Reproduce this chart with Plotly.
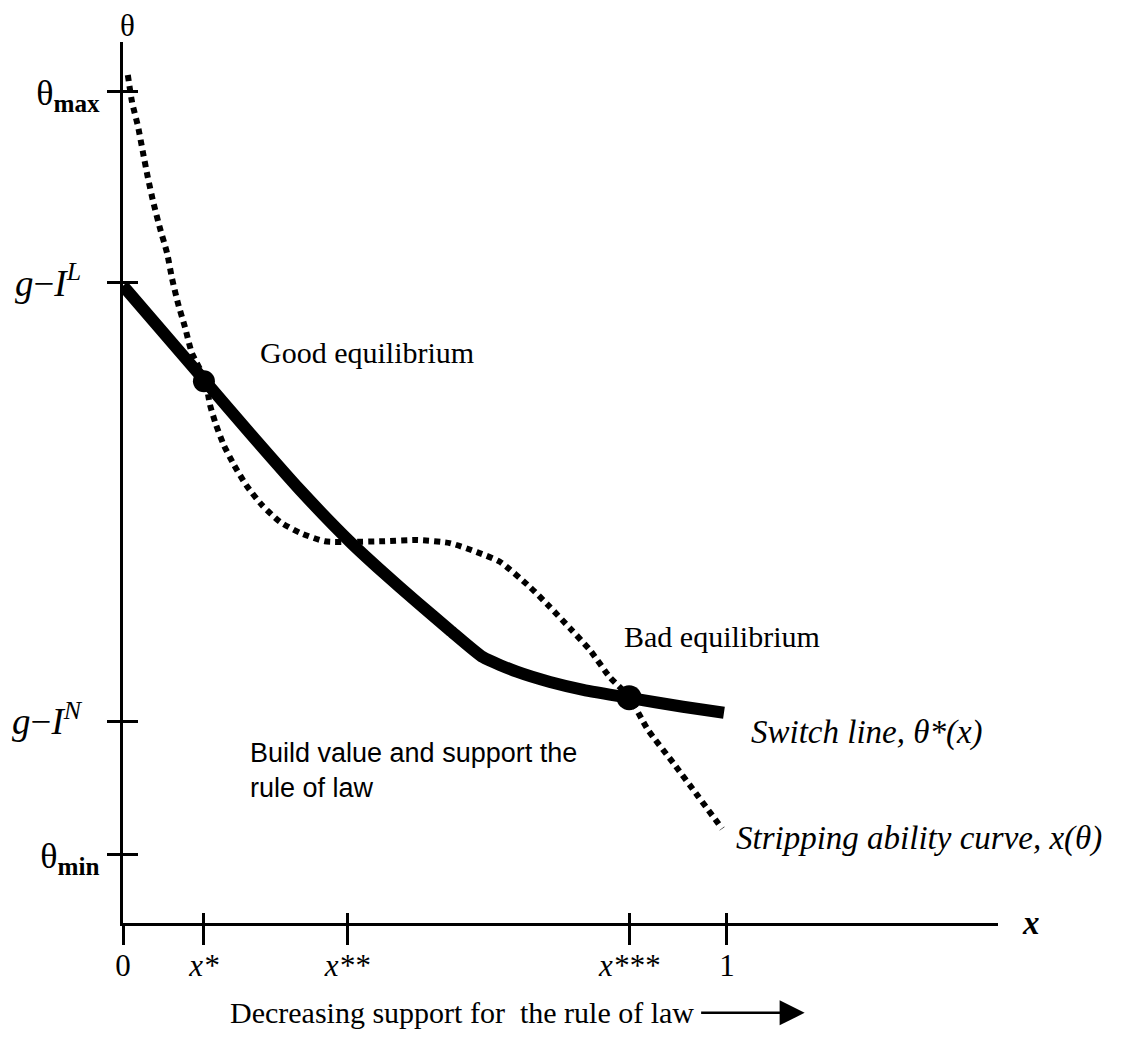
import plotly.graph_objects as go

# ---- data (schematic units: x=1 is the "1" tick; same scale on both axes) ----
x_tick_vals = [0.0, 0.134, 0.371, 0.838, 1.0]
x_tick_text = ["0", "<i>x*</i>", "<i>x**</i>", "<i>x***</i>", "1"]

y_tick_vals = [0.113, 0.334, 1.060, 1.376]
y_tick_text = [
    "<span style='font-size:36px'>θ<sub><b>min</b></sub></span>",
    "<i>g</i>−<i>I</i><sup><i>N</i></sup>\u00a0\u00a0",
    "<i>g</i>−<i>I</i><sup><i>L</i></sup>\u00a0\u00a0",
    "<span style='font-size:36px'>θ<sub><b>max</b></sub></span>",
]

# Switch line θ*(x)
switch_x = [0.0, 0.136, 0.210, 0.293, 0.376, 0.430, 0.487, 0.541, 0.596, 0.652, 0.707, 0.762, 0.836, 0.927, 0.995]
switch_y = [1.055, 0.897, 0.811, 0.717, 0.631, 0.581, 0.531, 0.485, 0.440, 0.416, 0.399, 0.386, 0.373, 0.358, 0.348]

# Stripping ability curve x(θ)
strip_x = [0.008, 0.015, 0.025, 0.033, 0.041, 0.050, 0.061, 0.073, 0.081, 0.091, 0.103, 0.114, 0.136,
           0.144, 0.154, 0.167, 0.184, 0.204, 0.230, 0.260, 0.293, 0.334, 0.376, 0.430, 0.487, 0.541,
           0.586, 0.624, 0.674, 0.707, 0.740, 0.773, 0.806, 0.838, 0.869, 0.911, 0.952, 0.992]
strip_y = [1.404, 1.359, 1.318, 1.276, 1.235, 1.194, 1.151, 1.109, 1.068, 1.026, 0.985, 0.944, 0.899,
           0.858, 0.825, 0.791, 0.758, 0.725, 0.692, 0.664, 0.646, 0.632, 0.631, 0.632, 0.634, 0.629,
           0.614, 0.598, 0.556, 0.523, 0.488, 0.452, 0.407, 0.374, 0.320, 0.265, 0.210, 0.156]

# Equilibria
eq_x = [0.134, 0.838]
eq_y = [0.897, 0.373]
eq_size = [22, 25]

X_RANGE = [0, 1.4487]
Y_RANGE = [0, 1.4586]

SERIF = "Liberation Serif, Times New Roman, serif"
SANS = "Liberation Sans, Arial, sans-serif"

fig = go.Figure()

fig.add_trace(go.Scatter(
    x=strip_x, y=strip_y, mode="lines",
    line=dict(color="black", width=6, dash="6px,5px", shape="spline", smoothing=0.6),
    hoverinfo="skip", showlegend=False))

fig.add_trace(go.Scatter(
    x=switch_x, y=switch_y, mode="lines",
    line=dict(color="black", width=12, shape="spline", smoothing=0.5),
    hoverinfo="skip", showlegend=False))

fig.add_trace(go.Scatter(
    x=eq_x, y=eq_y, mode="markers",
    marker=dict(color="black", size=eq_size, opacity=1, line=dict(width=0)),
    hoverinfo="skip", showlegend=False))

# invisible trace on overlay axes so they render
fig.add_trace(go.Scatter(x=[0], y=[0], xaxis="x2", yaxis="y2", mode="markers",
                         marker=dict(opacity=0), hoverinfo="skip", showlegend=False))

axis_common = dict(showgrid=False, zeroline=False, automargin=False)

fig.update_layout(
    width=1128, height=1064, autosize=False,
    margin=dict(l=115, r=138, t=34, b=149),
    plot_bgcolor="white", paper_bgcolor="white",
    xaxis=dict(range=X_RANGE, tickvals=x_tick_vals, ticktext=x_tick_text,
               ticks="outside", ticklen=19, tickwidth=2.5, tickcolor="black",
               ticklabelstandoff=-6,
               showline=True, linecolor="black", linewidth=3,
               tickfont=dict(family=SERIF, size=31, color="black"), **axis_common),
    yaxis=dict(range=Y_RANGE, tickvals=y_tick_vals, ticktext=y_tick_text,
               ticks="outside", ticklen=13, tickwidth=2.5, tickcolor="black",
               showline=True, linecolor="black", linewidth=3,
               tickfont=dict(family=SERIF, size=37, color="black"), **axis_common),
    xaxis2=dict(range=X_RANGE, overlaying="x", anchor="y", tickvals=x_tick_vals,
                ticks="inside", ticklen=10, tickwidth=2.5, tickcolor="black",
                showticklabels=False, showline=False, side="bottom", **axis_common),
    yaxis2=dict(range=Y_RANGE, overlaying="y", anchor="x", tickvals=y_tick_vals,
                ticks="inside", ticklen=15, tickwidth=2.5, tickcolor="black",
                showticklabels=False, showline=False, side="left", **axis_common),
)

annotations = [
    dict(text="θ", xref="x", yref="paper", x=0.007, y=1.0, yanchor="bottom", yshift=-3,
         showarrow=False, font=dict(family=SERIF, size=31, color="black")),
    dict(text="<b><i>x</i></b>", xref="paper", yref="y", x=1.0, y=0, xanchor="left", xshift=22,
         showarrow=False, font=dict(family=SERIF, size=33, color="black")),
    dict(text="Good equilibrium", xref="x", yref="y", x=0.2235, y=0.945, xanchor="left",
         yanchor="middle", showarrow=False, font=dict(family=SERIF, size=30, color="black")),
    dict(text="Bad equilibrium", xref="x", yref="y", x=0.826, y=0.475, xanchor="left",
         yanchor="middle", showarrow=False, font=dict(family=SERIF, size=30, color="black")),
    dict(text="Build value and support the<br>rule of law", xref="x", yref="y", x=0.207, y=0.253,
         xanchor="left", yanchor="middle", align="left", showarrow=False,
         font=dict(family=SANS, size=27, color="black")),
    dict(text="<i>Switch line, θ*(x)</i>", xref="x", yref="y", x=1.036, y=0.316, xanchor="left",
         yanchor="middle", showarrow=False, font=dict(family=SERIF, size=33, color="black")),
    dict(text="<i>Stripping ability curve, x(θ)</i>", xref="x", yref="y", x=1.011, y=0.140,
         xanchor="left", yanchor="middle", showarrow=False,
         font=dict(family=SERIF, size=33, color="black")),
    dict(text="Decreasing support for  the rule of law", xref="paper", yref="paper",
         x=0.12, y=-0.102, xanchor="left", yanchor="middle", showarrow=False,
         font=dict(family=SERIF, size=30, color="black")),
    dict(text="", xref="paper", yref="paper", x=0.779, y=-0.102, ax=-105, ay=0,
         axref="pixel", ayref="pixel", showarrow=True, arrowhead=2, arrowsize=2,
         arrowwidth=2.5, arrowcolor="black"),
]
fig.update_layout(annotations=annotations)

fig.write_html("out.html")
